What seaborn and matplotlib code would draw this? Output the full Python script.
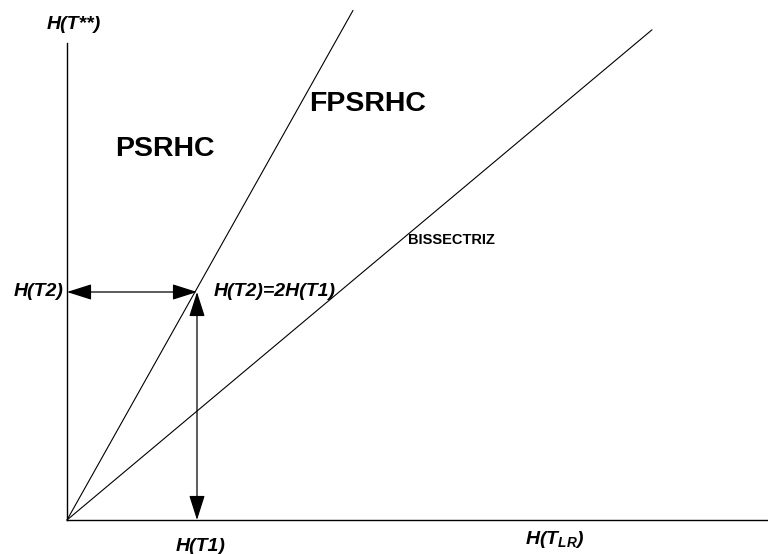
import numpy as np
import pandas as pd
import matplotlib
matplotlib.use("Agg")
import matplotlib.pyplot as plt
import seaborn as sns

sns.set_theme(style="white")
plt.rcParams['font.family'] = ['Liberation Sans', 'DejaVu Sans']
plt.rcParams['mathtext.fontset'] = 'custom'
plt.rcParams['mathtext.it'] = 'Liberation Sans:bold:italic'

# valores (H(T1) = 1, H(T2) = 2H(T1))
h_t1 = 1.0
h_t2 = 2.0
fpsrhc_x = [0.0, 2.2]
fpsrhc_y = [0.0, 4.47]
bissectriz_x = [0.0, 4.5]
bissectriz_y = [0.0, 4.3]

df = pd.concat([
    pd.DataFrame({'x': fpsrhc_x, 'y': fpsrhc_y, 'reta': 'FPSRHC'}),
    pd.DataFrame({'x': bissectriz_x, 'y': bissectriz_y, 'reta': 'BISSECTRIZ'}),
])

fig = plt.figure(figsize=(7.68, 5.54), dpi=100)
ax = fig.add_axes([0, 0, 1, 1])

sns.lineplot(data=df, x='x', y='y', units='reta', estimator=None,
             color='black', linewidth=0.8, ax=ax, legend=False)

ax.set_xlim(-67 / 130, 701 / 130)
ax.set_ylim(-34 / 114, 520 / 114)

# eixos
for s in ['top', 'right']:
    ax.spines[s].set_visible(False)
ax.spines['left'].set_position(('data', 0))
ax.spines['bottom'].set_position(('data', 0))
ax.spines['left'].set_bounds(0, 4.18)
ax.spines['bottom'].set_bounds(0, 6)
for s in ['left', 'bottom']:
    ax.spines[s].set_color('black')
    ax.spines[s].set_linewidth(1.0)
ax.set_xticks([])
ax.set_yticks([])
ax.set_xlabel('')
ax.set_ylabel('')

# setas
seta = dict(arrowstyle='<|-|>,head_length=1.1,head_width=0.35',
            color='black', lw=0.9, shrinkA=0, shrinkB=0, mutation_scale=14)
ax.annotate('', xy=(0, h_t2), xytext=(h_t1, h_t2), arrowprops=seta)
ax.annotate('', xy=(h_t1, 0), xytext=(h_t1, h_t2), arrowprops=seta)

# textos
bi = dict(fontweight='bold', fontstyle='italic', fontsize=14, color='black')
ax.text(0.05, 4.35, 'H(T**)', ha='center', va='center', **bi)
ax.text(-0.03, h_t2, 'H(T2)', ha='right', va='center', **bi)
ax.text(1.13, h_t2, 'H(T2)=2H(T1)', ha='left', va='center', **bi)
ax.text(1.03, -0.23, 'H(T1)', ha='center', va='center', **bi)
ax.text(3.75, -0.175, r'H(T$_{LR}$)', ha='center', va='center', **bi)

ax.text(0.75, 3.25, 'PSRHC', ha='center', va='center',
        fontweight='bold', fontsize=20.5, color='black')
ax.text(2.31, 3.65, 'FPSRHC', ha='center', va='center',
        fontweight='bold', fontsize=20.5, color='black')
ax.text(2.96, 2.46, 'BISSECTRIZ', ha='center', va='center',
        fontweight='bold', fontsize=10.5, color='black')

plt.savefig('out.png', dpi=100)
